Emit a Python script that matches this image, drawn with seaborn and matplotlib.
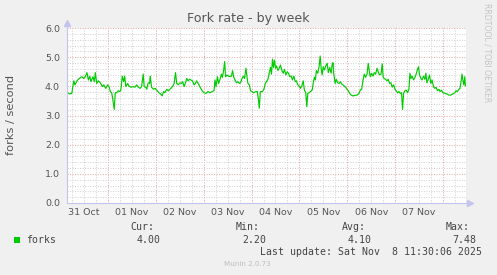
import matplotlib
matplotlib.use("Agg")
import matplotlib.pyplot as plt
import matplotlib.dates as mdates
from matplotlib.ticker import MultipleLocator, FuncFormatter, FormatStrFormatter, NullFormatter
from matplotlib.patches import Rectangle
import numpy as np
import pandas as pd
import seaborn as sns

# ---------------- data ----------------
start_time = "2025-10-31 03:30"
end_time = "2025-11-08 11:30"

hours = [
    0.4, 1.2, 2.4, 3.4, 4.0, 5.0, 6.2, 7.4, 8.4, 9.0, 10.0, 10.7, 11.4, 12.0, 13.0, 13.7, 14.2, 14.9, 15.7, 16.7,
    17.7, 18.4, 19.4, 20.4, 21.2, 21.7, 22.4, 23.0, 23.7, 24.2, 25.0, 25.7, 26.4, 27.0, 27.7, 28.4, 28.9, 29.5, 30.4, 31.0,
    32.0, 33.0, 34.0, 35.0, 35.7, 36.7, 37.4, 38.2, 38.7, 39.4, 40.0, 40.7, 41.4, 41.7, 42.4, 43.4, 44.2, 45.0, 46.0, 47.0,
    47.7, 48.4, 49.0, 50.0, 50.7,
    51.2, 52.0, 52.9, 53.7, 54.4, 55.0, 55.7, 56.7, 57.4, 58.0, 58.7, 59.4, 60.0, 60.7, 61.4, 62.0, 62.9, 63.7, 64.4, 65.0,
    65.7, 66.7, 67.7, 68.7, 69.7, 70.7, 71.7, 72.7, 73.7, 74.2, 74.7, 75.4, 76.0, 76.7, 77.4, 77.9, 78.5, 79.0, 79.5, 80.2,
    81.0, 81.7, 82.4, 83.0, 83.5, 84.2, 85.0, 85.7, 86.4, 87.0, 87.7, 88.4, 89.0, 89.7, 90.2, 90.7, 91.4, 92.0, 92.7, 93.4,
    94.4, 95.4, 96.0, 96.4, 96.9,
    97.9, 98.7, 99.4, 100.0, 100.7, 101.4, 102.0, 102.5, 103.0, 103.5, 104.0, 104.5, 105.0, 105.7, 106.4, 107.0, 107.7,
    108.4, 109.0, 109.7, 110.4, 111.0, 111.7, 112.4, 113.0, 113.7, 114.4, 115.0, 115.7, 116.4, 117.0, 117.7, 118.4, 119.0,
    119.7, 120.2, 120.7, 121.4, 122.0, 122.9, 123.4, 124.0, 124.5, 125.0, 125.7, 126.4, 126.9, 127.4, 127.9, 128.4, 129.0,
    129.7, 130.4, 131.0, 131.7, 132.4, 133.0, 133.4, 133.7, 134.4, 135.0, 135.7, 136.4, 137.0, 137.7, 138.4, 139.0, 139.7,
    140.4, 141.0, 141.7, 142.4, 143.4, 144.4, 145.4, 146.4,
    147.0, 147.7, 148.4, 149.0, 149.7, 150.4, 151.0, 151.5, 152.0, 152.7, 153.4, 154.0, 154.7, 155.4, 156.0, 156.7, 157.4,
    158.0, 158.5, 159.0, 159.7, 160.4, 161.0, 161.7, 162.4, 163.0, 163.7, 164.4, 165.0, 165.7, 166.4, 167.0, 167.7, 168.2,
    168.7, 169.4, 170.0, 170.7, 171.4, 171.9, 172.4, 173.0, 173.7, 174.4, 175.0, 175.7, 176.2, 176.7, 177.4, 178.0, 178.7,
    179.4, 179.9, 180.4, 181.0, 181.7, 182.4, 183.0, 183.7, 184.4, 185.0, 185.7, 186.4, 187.0, 187.7, 188.4, 189.4, 190.4,
    191.4, 192.4, 193.4, 194.4, 195.0, 195.7, 196.4, 197.0, 197.5, 198.0, 198.4, 198.9, 199.4, 199.7,
]

forks = [
    3.78, 3.74, 3.76, 4.19, 4.05, 4.19, 4.27, 4.33, 4.27, 4.31, 4.47, 4.22, 4.35, 4.16, 4.33, 4.16, 4.47, 4.10, 4.19, 4.12,
    3.99, 4.05, 3.93, 4.05, 3.97, 3.82, 3.78, 3.53, 3.21, 3.78, 3.78, 3.85, 3.82, 3.87, 4.35, 4.16, 4.35, 3.99, 4.10, 4.01,
    3.97, 3.99, 3.97, 4.05, 3.97, 3.93, 3.99, 4.42, 3.99, 3.97, 3.90, 4.12, 4.10, 4.35, 3.97, 3.90, 3.93, 3.87, 3.78, 3.74,
    3.67, 3.82, 3.78, 3.90, 3.85,
    3.87, 3.93, 3.99, 4.10, 4.47, 4.10, 4.05, 4.12, 4.10, 4.16, 3.99, 4.12, 4.27, 4.19, 4.24, 4.22, 4.19, 4.05, 4.10, 4.19,
    4.10, 3.97, 3.85, 3.78, 3.76, 3.82, 3.78, 3.82, 3.85, 4.22, 3.99, 4.33, 4.10, 4.24, 4.42, 4.31, 4.54, 4.85, 4.33, 4.39,
    4.35, 4.33, 4.35, 4.54, 4.33, 4.22, 4.12, 4.16, 4.10, 4.12, 4.27, 4.35, 4.27, 4.62, 4.33, 4.10, 4.05, 3.85, 3.82, 3.78,
    3.81, 3.82, 3.53, 3.25, 3.82,
    3.82, 3.90, 4.10, 4.16, 4.24, 4.47, 4.65, 4.42, 4.93, 4.65, 4.90, 4.62, 4.70, 4.54, 4.62, 4.73, 4.54, 4.45, 4.58, 4.39,
    4.50, 4.45, 4.33, 4.35, 4.22, 4.35, 4.16, 4.19, 4.05, 4.01, 3.93, 4.01, 4.19, 3.87, 3.78, 3.30, 3.76, 3.78, 3.82, 3.87,
    4.10, 4.31, 4.22, 4.54, 4.45, 4.70, 5.04, 4.62, 4.39, 4.67, 4.56, 4.70, 4.79, 4.47, 4.65, 4.45, 4.79, 4.81, 4.45, 4.10,
    4.24, 4.12, 4.10, 4.16, 4.08, 4.05, 4.01, 3.97, 3.90, 3.85, 3.76, 3.70, 3.67, 3.69, 3.70, 3.76,
    3.87, 3.90, 4.22, 4.42, 4.31, 4.42, 4.79, 4.54, 4.33, 4.45, 4.35, 4.47, 4.42, 4.62, 4.50, 4.39, 4.42, 4.77, 4.31, 4.27,
    4.24, 4.19, 4.24, 4.10, 4.12, 3.97, 4.05, 3.90, 3.85, 3.78, 3.82, 3.76, 3.78, 3.21, 3.76, 3.85, 3.87, 3.78, 3.90, 4.45,
    4.27, 4.35, 4.22, 4.31, 4.42, 4.58, 4.67, 4.39, 4.27, 4.22, 4.35, 4.24, 4.45, 4.12, 4.22, 4.39, 4.10, 4.22, 3.99, 3.93,
    3.97, 3.85, 3.90, 3.82, 3.87, 3.78, 3.76, 3.74, 3.70, 3.70, 3.74, 3.78, 3.85, 3.82, 3.90, 3.93, 4.16, 4.42, 4.22, 4.05,
    4.33, 4.01,
]

title = "Fork rate - by week"
y_label = "forks / second"
series_name = "forks"
stat_names = ["Cur:", "Min:", "Avg:", "Max:"]
stat_values = ["4.00", "2.20", "4.10", "7.48"]
last_update = "Last update: Sat Nov  8 11:30:06 2025"
side_text = "RRDTOOL / TOBI OETIKER"
footer = "Munin 2.0.73"

# ---------------- styling ----------------
W, H = 497, 275
BG = "#F0F0F0"
GREEN = "#00CC00"
TXT = "#555555"
AXIS = "#C4C4F0"
MAJ = "#E6A0A0"
MIN = "#CFCFCF"

sns.set_style("white")
plt.rcParams["font.family"] = ["DejaVu Sans"]

t0 = pd.Timestamp(start_time)
t1 = pd.Timestamp(end_time)
df = pd.DataFrame({"time": t0 + pd.to_timedelta(hours, unit="h"), "forks": forks})

fig = plt.figure(figsize=(W / 100, H / 100), dpi=100, facecolor=BG)
ax = fig.add_axes([67 / W, 72 / H, 399 / W, 175 / H])
ax.set_facecolor("white")

sns.lineplot(data=df, x="time", y="forks", ax=ax, color=GREEN, linewidth=0.85, zorder=3)

ax.set_xlim(t0, t1)
ax.set_ylim(0, 6)
ax.set_xlabel("")
ax.set_ylabel("")

# x ticks: major at midnight (red), minor every 6h with day labels at noon
ax.xaxis.set_major_locator(mdates.HourLocator(byhour=[0]))
ax.xaxis.set_minor_locator(mdates.HourLocator(byhour=[0, 6, 12, 18]))
ax.xaxis.set_major_formatter(NullFormatter())


def day_label(x, pos):
    d = mdates.num2date(x)
    return d.strftime("%d %b") if d.hour == 12 else ""


ax.xaxis.set_minor_formatter(FuncFormatter(day_label))

ax.yaxis.set_major_locator(MultipleLocator(1.0))
ax.yaxis.set_minor_locator(MultipleLocator(0.2))
ax.yaxis.set_major_formatter(FormatStrFormatter("%.1f"))

ax.tick_params(axis="x", which="major", direction="out", length=1.6, width=0.7, color=MAJ)
ax.tick_params(axis="x", which="minor", direction="out", length=1.6, width=0.7, color="#BBBBBB",
               labelsize=6.8, labelcolor=TXT, pad=2.2)
ax.tick_params(axis="y", which="major", direction="out", length=1.6, width=0.7, color=MAJ,
               labelsize=6.8, labelcolor=TXT, pad=3.5)
ax.tick_params(axis="y", which="minor", direction="out", length=1.6, width=0.7, color="#BBBBBB")

ax.set_axisbelow(True)
ax.grid(which="minor", color=MIN, linestyle=(0, (1, 1.6)), linewidth=0.7)
ax.grid(which="major", color=MAJ, linestyle=(0, (1, 1.6)), linewidth=0.7)

for s in ax.spines.values():
    s.set_visible(False)

# axis lines with arrows
ax.plot([0, 0], [0, 1 + 5 / 175], transform=ax.transAxes, color=AXIS, lw=0.8, clip_on=False, zorder=4)
ax.plot([0, 1 + 4 / 399], [0, 0], transform=ax.transAxes, color=AXIS, lw=0.8, clip_on=False, zorder=4)
ax.plot([0], [1 + 5 / 175], transform=ax.transAxes, marker="^", ms=4, color=AXIS, clip_on=False, zorder=4)
ax.plot([1 + 4 / 399], [0], transform=ax.transAxes, marker=">", ms=4, color=AXIS, clip_on=False, zorder=4)


def fx(px):
    return px / W


def fy(py):
    return 1 - py / H


fig.text(fx(248), fy(18.5), title, ha="center", va="center", fontsize=9.1, color=TXT)
fig.text(fx(11), fy(115), y_label, ha="center", va="center", rotation=90, fontsize=8.2, color=TXT)
fig.text(fx(487.5), fy(53), side_text, ha="center", va="center", rotation=270, fontsize=5.6, color="#C4C4C4")

mono = dict(family="DejaVu Sans Mono", fontsize=7.1, color="#444444")
fig.add_artist(Rectangle((fx(14), fy(243)), 6 / W, 6 / H, transform=fig.transFigure,
                         facecolor=GREEN, edgecolor="none"))
fig.text(fx(26.5), fy(240), series_name, ha="left", va="center", **mono)
name_right = [154.5, 260, 365.7, 470]
val_right = [161, 266.7, 371.7, 476.7]
for nm, vv, xr1, xr2 in zip(stat_names, stat_values, name_right, val_right):
    fig.text(fx(xr1), fy(227.5), nm, ha="right", va="center", **mono)
    fig.text(fx(xr2), fy(240), vv, ha="right", va="center", **mono)
fig.text(fx(482.5), fy(252), last_update, ha="right", va="center", **mono)
fig.text(fx(247.5), fy(264), footer, ha="center", va="center", fontsize=5.1, color="#BDBDBD")

fig.savefig("out.png", dpi=100, facecolor=BG)
